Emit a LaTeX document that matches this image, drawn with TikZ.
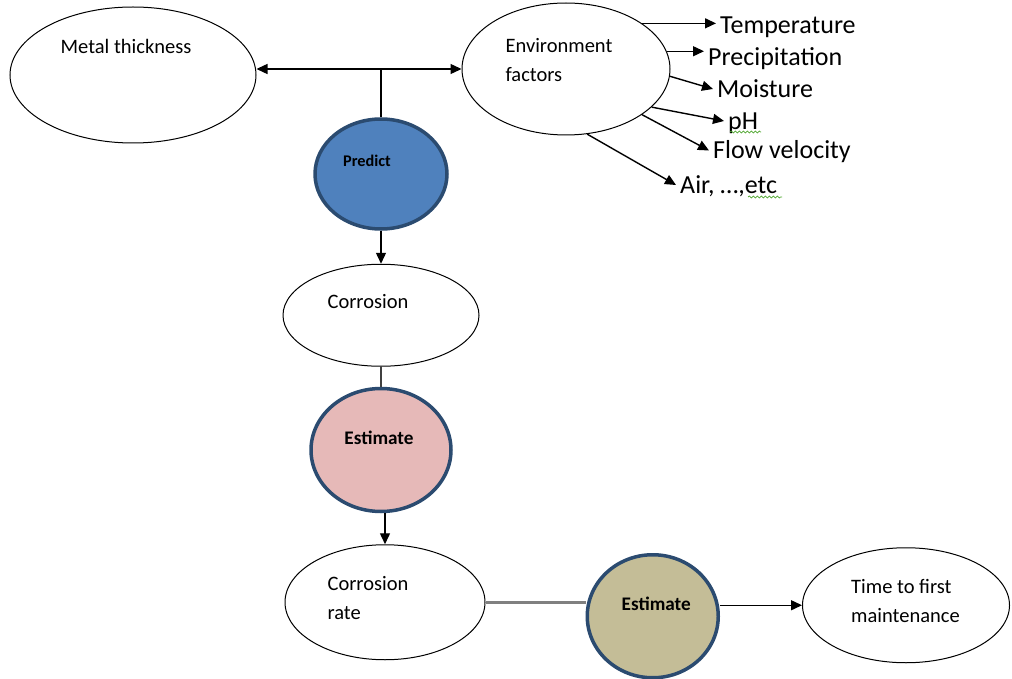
\documentclass[tikz,border=0pt]{standalone}
\usepackage{fontspec}
\setmainfont{Carlito}
\usetikzlibrary{shapes,arrows.meta,positioning,decorations.pathmorphing}
\definecolor{predfill}{HTML}{4F81BD}
\definecolor{estpink}{HTML}{E6B9B8}
\definecolor{esttan}{HTML}{C4BD97}
\definecolor{rimblue}{HTML}{2B4B70}
\definecolor{squig}{HTML}{4EA62E}
\tikzset{
  bubble/.style={draw, ellipse, line width=1pt, fill=white, inner sep=0pt},
  blob/.style={draw=rimblue, ellipse, line width=3.5pt, inner sep=0pt},
  intxt/.style={font=\fontsize{20.5}{29}\selectfont, align=left, inner sep=0pt},
  boldtxt/.style={font=\fontsize{19.2}{23}\selectfont\bfseries, inner sep=0pt},
  factor/.style={font=\fontsize{26}{30}\selectfont, anchor=west, inner xsep=4pt, inner ysep=0pt, text height=16.6pt, text depth=0pt},
  link/.style={line width=1.4pt},
  spell/.style={draw=squig, line width=0.7pt, decorate, decoration={snake, amplitude=1pt, segment length=4pt}}
}
\begin{document}
\begin{tikzpicture}[x=1pt, y=-1pt, >={Triangle[length=11pt,width=10pt]}]
\useasboundingbox (0,0) rectangle (1012,679);
\node[bubble, minimum width=246pt, minimum height=136pt, label={[intxt, shift={(-7,-29)}]center:Metal thickness}] (mt) at (133,75) {};
\node[bubble, minimum width=208pt, minimum height=132pt, right=205pt of mt, yshift=6pt, label={[intxt, shift={(-7,-8.5)}]center:Environment\\factors}] (env) {};
\node[blob, fill=predfill, minimum width=132pt, minimum height=110pt, label={[boldtxt, font=\fontsize{16.3}{20}\selectfont\bfseries, shift={(-14,-13)}]center:Predict}] (pr) at (381,174) {};
\node[bubble, minimum width=196pt, minimum height=102pt, below=33pt of pr, label={[intxt, shift={(-13,-14)}]center:Corrosion}] (co) {};
\node[blob, fill=estpink, minimum width=140pt, minimum height=123pt, below=20pt of co, label={[boldtxt, shift={(-2,-12)}]center:Estimate}] (es1) {};
\node[bubble, minimum width=200pt, minimum height=115pt, below=31pt of es1, xshift=4pt, label={[intxt, shift={(-17,-4)}]center:Corrosion\\rate}] (cr) {};
\node[blob, fill=esttan, minimum width=131pt, minimum height=123pt, right=100pt of cr, yshift=-14pt, label={[boldtxt, shift={(3.5,-12.5)}]center:Estimate}] (es2) {};
\node[bubble, minimum width=207pt, minimum height=115pt, right=82pt of es2, yshift=11pt, label={[intxt, shift={(-0.5,-4.5)}]center:Time to first\\maintenance}] (tm) {};

\node[factor] (t1) at (716,25.5) {Temperature};
\node[factor] (t2) at (704,57) {Precipitation};
\node[factor] (t3) at (713,89) {Moisture};
\node[factor] (t4) at (724,121) {pH};
\node[factor] (t5) at (709,150.5) {Flow velocity};
\node[factor] (t6) at (676,185) {Air, …,etc};

\draw[link, <->] (env.west -| mt.east) -- (env.west);
\draw[link] (env.west -| pr.north) -- (pr.north);
\draw[link, ->] (pr) -- (co);
\draw[link, draw=darkgray] (co) -- (es1);
\draw[link, ->] (es1.south -| cr.north) -- (cr.north);
\draw[link, draw=gray, line width=2.5pt] (cr.east) -- (es2.west |- cr.east);
\draw[link, ->] (es2.east |- tm.west) -- (tm.west);

\draw[link, ->] (env.31) -- (env.31 -| t1.west);
\draw[link, ->] (env.10) -- (env.10 -| t2.west);
\draw[link, ->] (env.-4) -- (t3.west);
\draw[link, ->] (env.-24) -- (t4.west);
\draw[link, ->] (env.-31) -- (t5.west);
\draw[link, ->] (env.-72) -- (t6.west);

\draw[spell] (730,132) -- (761,132);
\draw[spell] (748,197) -- (782,197);
\end{tikzpicture}
\end{document}
